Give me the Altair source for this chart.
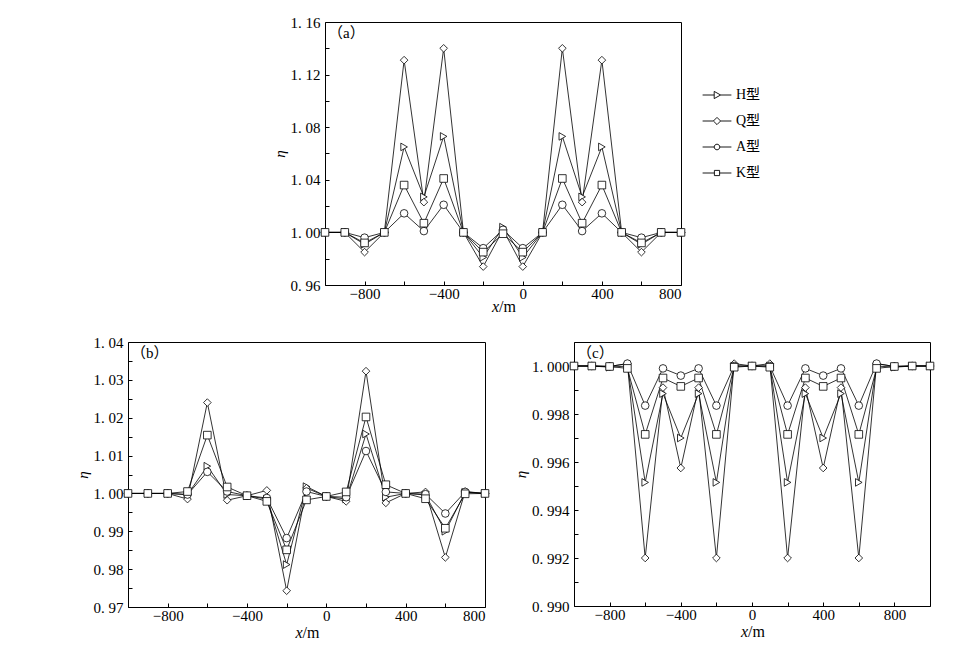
import altair as alt
import pandas as pd

series = ["H型", "Q型", "A型", "K型"]
shapes = ["triangle-right", "diamond", "circle", "square"]

# x positions (m)
x_ab = [-1000, -900, -800, -700, -600, -500, -400, -300, -200, -100, 0,
        100, 200, 300, 400, 500, 600, 700, 800]
x_c = [-1000, -900, -800, -700, -600, -500, -400, -300, -200, -100, 0,
       100, 200, 300, 400, 500, 600, 700, 800, 900, 1000]

# panel (a)
a_H = [1.000, 1.000, 0.991, 1.000, 1.065, 1.027, 1.073, 1.000, 0.981, 1.004,
       0.981, 1.000, 1.073, 1.027, 1.065, 1.000, 0.991, 1.000, 1.000]
a_Q = [1.000, 1.000, 0.985, 1.000, 1.131, 1.023, 1.140, 1.000, 0.974, 1.002,
       0.974, 1.000, 1.140, 1.023, 1.131, 1.000, 0.985, 1.000, 1.000]
a_A = [1.000, 1.000, 0.996, 1.000, 1.0145, 1.001, 1.021, 1.000, 0.988, 1.002,
       0.988, 1.000, 1.021, 1.001, 1.0145, 1.000, 0.996, 1.000, 1.000]
a_K = [1.000, 1.000, 0.992, 1.000, 1.036, 1.007, 1.041, 1.000, 0.985, 0.999,
       0.985, 1.000, 1.041, 1.007, 1.036, 1.000, 0.992, 1.000, 1.000]

# panel (b)
b_H = [1.000, 1.000, 1.000, 0.9997, 1.0072, 0.9997, 0.9994, 0.9985, 0.9812, 1.0018,
       0.9992, 0.9985, 1.0157, 0.9990, 1.0000, 0.9996, 0.9900, 1.0003, 1.000]
b_Q = [1.000, 1.000, 1.000, 0.9985, 1.0240, 0.9982, 0.9994, 1.0008, 0.9743, 1.0014,
       0.9992, 0.9979, 1.0323, 0.9975, 1.0000, 1.0004, 0.9831, 1.0005, 1.000]
b_A = [1.000, 1.000, 1.000, 0.9997, 1.0057, 1.0005, 0.9994, 0.9988, 0.9882, 1.0005,
       0.9992, 0.9990, 1.0112, 1.0004, 1.0000, 0.9998, 0.9947, 1.0004, 1.000]
b_K = [1.000, 1.000, 1.000, 1.0005, 1.0154, 1.0017, 0.9994, 0.9979, 0.9851, 0.9983,
       0.9992, 1.0004, 1.0202, 1.0023, 1.0000, 0.9986, 0.9908, 0.9999, 1.000]

# panel (c)
c_H = [1.0000, 1.0000, 0.99995, 1.0000, 0.99515, 0.99885, 0.9970, 0.99885, 0.99515, 1.0000,
       1.0000, 1.0000, 0.99515, 0.99885, 0.9970, 0.99885, 0.99515, 1.0000, 0.99995, 1.0000, 1.0000]
c_Q = [1.0000, 1.0000, 0.99998, 1.0001, 0.9920, 0.9991, 0.99575, 0.9991, 0.9920, 1.0001,
       1.0000, 1.0001, 0.9920, 0.9991, 0.99575, 0.9991, 0.9920, 1.0001, 0.99998, 1.0000, 1.0000]
c_A = [1.0000, 1.0000, 0.99998, 1.0001, 0.99835, 0.9999, 0.9996, 0.9999, 0.99835, 1.0000,
       1.0000, 1.0000, 0.99835, 0.9999, 0.9996, 0.9999, 0.99835, 1.0001, 0.99998, 1.0000, 1.0000]
c_K = [1.0000, 1.0000, 0.99998, 0.9999, 0.99715, 0.9995, 0.99915, 0.9995, 0.99715, 0.99995,
       1.0000, 0.99995, 0.99715, 0.9995, 0.99915, 0.9995, 0.99715, 0.9999, 0.99998, 1.0000, 1.0000]

SERIF = "Liberation Serif"
MIX = "Liberation Serif, Noto Sans CJK SC"

legend_paths = [
    "M-3.6,0H-0.7M0.9,0H3.6M-0.7,-0.9L0.9,0L-0.7,0.9Z",
    "M-3.6,0H-0.9M0.9,0H3.6M0,-0.9L0.9,0L0,0.9L-0.9,0Z",
    "M-3.6,0H-0.7M0.7,0H3.6M-0.7,0A0.7,0.7,0,1,1,0.7,0A0.7,0.7,0,1,1,-0.7,0Z",
    "M-3.6,0H-0.65M0.65,0H3.6M-0.65,-0.65H0.65V0.65H-0.65Z",
]


def long_df(xs, cols):
    rows = []
    for name, vals in zip(series, cols):
        for xv, yv in zip(xs, vals):
            rows.append({"x": xv, "eta": yv, "series": name})
    return pd.DataFrame(rows)


def panel(df, xdom, ydom, yvals, yminor, xvals, xminor, yfmt, tag, w, h, xt_off, legend=False):
    xs = alt.Scale(domain=xdom, nice=False, zero=False)
    ys = alt.Scale(domain=ydom, nice=False, zero=False)
    base = alt.Chart(df)
    lines = base.mark_line(color="black", strokeWidth=0.8).encode(
        x=alt.X("x:Q", scale=xs, axis=alt.Axis(values=xvals, title=None, ticks=False,
                                               labelPadding=1, labelFontSize=15)),
        y=alt.Y("eta:Q", scale=ys, axis=alt.Axis(
            values=yvals, title="η", ticks=False, labelPadding=5, labelFontSize=15,
            titleFont=SERIF, titleFontStyle="italic", titleFontSize=15,
            titleFontWeight="normal", titlePadding=3,
            labelExpr="replace(format(datum.value, '%s'), '.', '. ')" % yfmt)),
        detail="series:N",
    )
    pts = base.mark_point(filled=True, fill="white", stroke="black", strokeWidth=0.8,
                          size=58, opacity=1).encode(
        x=alt.X("x:Q", scale=xs, axis=alt.Axis(orient="top", offset=-h, values=xminor,
                                               labels=False, domain=False, tickSize=4,
                                               title=None)),
        y=alt.Y("eta:Q", scale=ys, axis=alt.Axis(orient="right", offset=-w, values=yminor,
                                                 labels=False, domain=False, tickSize=4,
                                                 title=None)),
        shape=alt.Shape("series:N", scale=alt.Scale(domain=series, range=shapes), legend=None),
    )
    tagc = alt.Chart(pd.DataFrame({"t": [tag]})).mark_text(
        font=MIX, fontSize=15, align="left", baseline="middle", color="black"
    ).encode(x=alt.value(3), y=alt.value(11), text="t:N")
    xt1 = alt.Chart(pd.DataFrame({"t": ["x"]})).mark_text(
        font=SERIF, fontSize=16, fontStyle="italic", align="right", baseline="alphabetic",
        color="black").encode(x=alt.value(w / 2 - 4), y=alt.value(h + xt_off), text="t:N")
    xt2 = alt.Chart(pd.DataFrame({"t": ["/m"]})).mark_text(
        font=SERIF, fontSize=16, align="left", baseline="alphabetic",
        color="black").encode(x=alt.value(w / 2 - 4), y=alt.value(h + xt_off), text="t:N")
    layers = [lines, pts, tagc, xt1, xt2]
    if legend:
        leg = base.transform_filter("false").mark_point(
            filled=False, color="black", strokeWidth=0.9, size=64, opacity=1
        ).encode(
            shape=alt.Shape("series:N", scale=alt.Scale(domain=series, range=legend_paths),
                            legend=alt.Legend(title=None, orient="none", legendX=w + 29,
                                              legendY=66, symbolSize=64,
                                              symbolStrokeColor="black", symbolOpacity=1,
                                              symbolStrokeWidth=0.9, labelFont=MIX,
                                              labelFontSize=14, labelColor="black",
                                              labelOffset=12, rowPadding=12)),
        )
        layers.append(leg)
    ch = alt.layer(*layers).resolve_axis(x="independent", y="independent")
    if legend:
        ch = ch.resolve_scale(shape="independent").resolve_legend(shape="independent")
    return ch.properties(width=w, height=h)


dfa = long_df(x_ab, [a_H, a_Q, a_A, a_K])
dfb = long_df(x_ab, [b_H, b_Q, b_A, b_K])
dfc = long_df(x_c, [c_H, c_Q, c_A, c_K])

pa = panel(dfa, [-1000, 800], [0.96, 1.16],
           [0.96, 1.00, 1.04, 1.08, 1.12, 1.16],
           [0.98, 1.00, 1.02, 1.04, 1.06, 1.08, 1.10, 1.12, 1.14],
           [-800, -400, 0, 400, 800], [-800, -600, -400, -200, 0, 200, 400, 600],
           ".2f", "（a）", 356, 263, 27, legend=True)
pb = panel(dfb, [-1000, 800], [0.97, 1.04],
           [0.97, 0.98, 0.99, 1.00, 1.01, 1.02, 1.03, 1.04],
           [0.975, 0.98, 0.985, 0.99, 0.995, 1.00, 1.005, 1.01, 1.015, 1.02, 1.025, 1.03, 1.035],
           [-800, -400, 0, 400, 800], [-800, -600, -400, -200, 0, 200, 400, 600],
           ".2f", "（b）", 357, 265, 31)
pc = panel(dfc, [-1000, 1000], [0.990, 1.001],
           [0.990, 0.992, 0.994, 0.996, 0.998, 1.000],
           [0.991, 0.992, 0.993, 0.994, 0.995, 0.996, 0.997, 0.998, 0.999, 1.000],
           [-800, -400, 0, 400, 800], [-800, -600, -400, -200, 0, 200, 400, 600, 800],
           ".3f", "（c）", 356, 264, 31)

spacer = alt.Chart(pd.DataFrame({"a": [0]})).mark_point(opacity=0).properties(
    width=142, height=10, view=alt.ViewBackground(stroke="transparent"))

top = alt.hconcat(spacer, pa, spacing=0)
bottom = alt.hconcat(pb, pc, spacing=22)

chart = alt.vconcat(top, bottom, spacing=18).properties(
    padding={"left": 66, "top": 6, "right": 5, "bottom": 5}
).configure_view(stroke="black", strokeWidth=1).configure_axis(
    labelFont=SERIF, labelColor="black", domainColor="black", tickColor="black",
    grid=False, titleColor="black", domainWidth=1, tickWidth=1
)

chart.save("out.html", embed_options={"renderer": "svg", "actions": False})
